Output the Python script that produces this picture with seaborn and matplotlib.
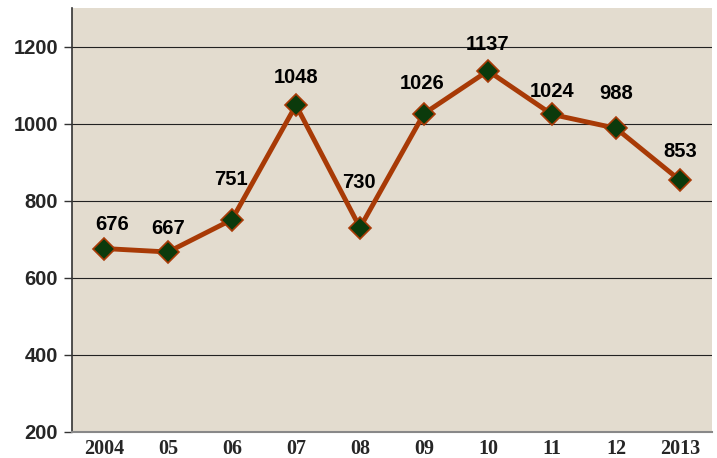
import pandas as pd
import matplotlib
matplotlib.use('Agg')
import matplotlib.pyplot as plt
from matplotlib import font_manager
import seaborn as sns

# values
years = ['2004', '05', '06', '07', '08', '09', '10', '11', '12', '2013']
counts = [676, 667, 751, 1048, 730, 1026, 1137, 1024, 988, 853]
y_ticks = [200, 400, 600, 800, 1000, 1200]

# label placement (pixels from the marker), labels were hand placed in the original
label_dx = [8, 0, -1, 0, -1, -2, 0, 0, 0, 0]
label_dy = [24, 23, 40, 28, 45, 30, 26, 23, 35, 29]

df = pd.DataFrame({'year': years, 'count': counts})
df['pos'] = range(len(df))

sns.set_theme(style='white')
names = {f.name for f in font_manager.fontManager.ttflist}
if 'Liberation Sans Narrow' in names:
    label_font, label_size = 'Liberation Sans Narrow', 17
else:
    label_font, label_size = 'Liberation Sans', 14.5
plt.rcParams['font.family'] = [label_font, 'DejaVu Sans']

fig = plt.figure(figsize=(7.17, 4.58), dpi=100)
fig.patch.set_facecolor('white')
ax = fig.add_axes([0.1004, 0.0568, 0.8926, 0.9257])
ax.set_facecolor('#e3dccf')

sns.lineplot(data=df, x='pos', y='count', ax=ax, color='#a83a06', linewidth=3.5,
             marker='D', markersize=11, markerfacecolor='#0b3a0c',
             markeredgecolor='#a83a06', markeredgewidth=1.2, zorder=3)

for p, v, dx, dy in zip(df['pos'], df['count'], label_dx, label_dy):
    ax.annotate(str(v), (p, v), textcoords='offset pixels', xytext=(dx, dy),
                ha='center', va='center', fontsize=label_size, fontweight='bold', color='black')

ax.set_xlim(-0.5, len(years) - 0.5)
ax.set_ylim(200, 1300)
ax.set_yticks(y_ticks)
ax.set_yticklabels([str(t) for t in y_ticks], fontsize=label_size, fontweight='bold')
ax.set_xticks(df['pos'])
ax.set_xticklabels(years, fontsize=14.5, fontweight='bold', family='Liberation Serif')
ax.tick_params(axis='x', length=0, pad=5)
ax.tick_params(axis='y', left=True, length=6, width=1, color='#333333', pad=4)
ax.grid(axis='y', color='#222222', linewidth=0.8)
ax.set_axisbelow(True)
ax.set_xlabel('')
ax.set_ylabel('')

for side in ['top', 'right']:
    ax.spines[side].set_visible(False)
ax.spines['left'].set_color('#333333')
ax.spines['left'].set_linewidth(1.2)
ax.spines['bottom'].set_color('#888888')
ax.spines['bottom'].set_linewidth(1.5)

fig.savefig('out.png', dpi=100)
